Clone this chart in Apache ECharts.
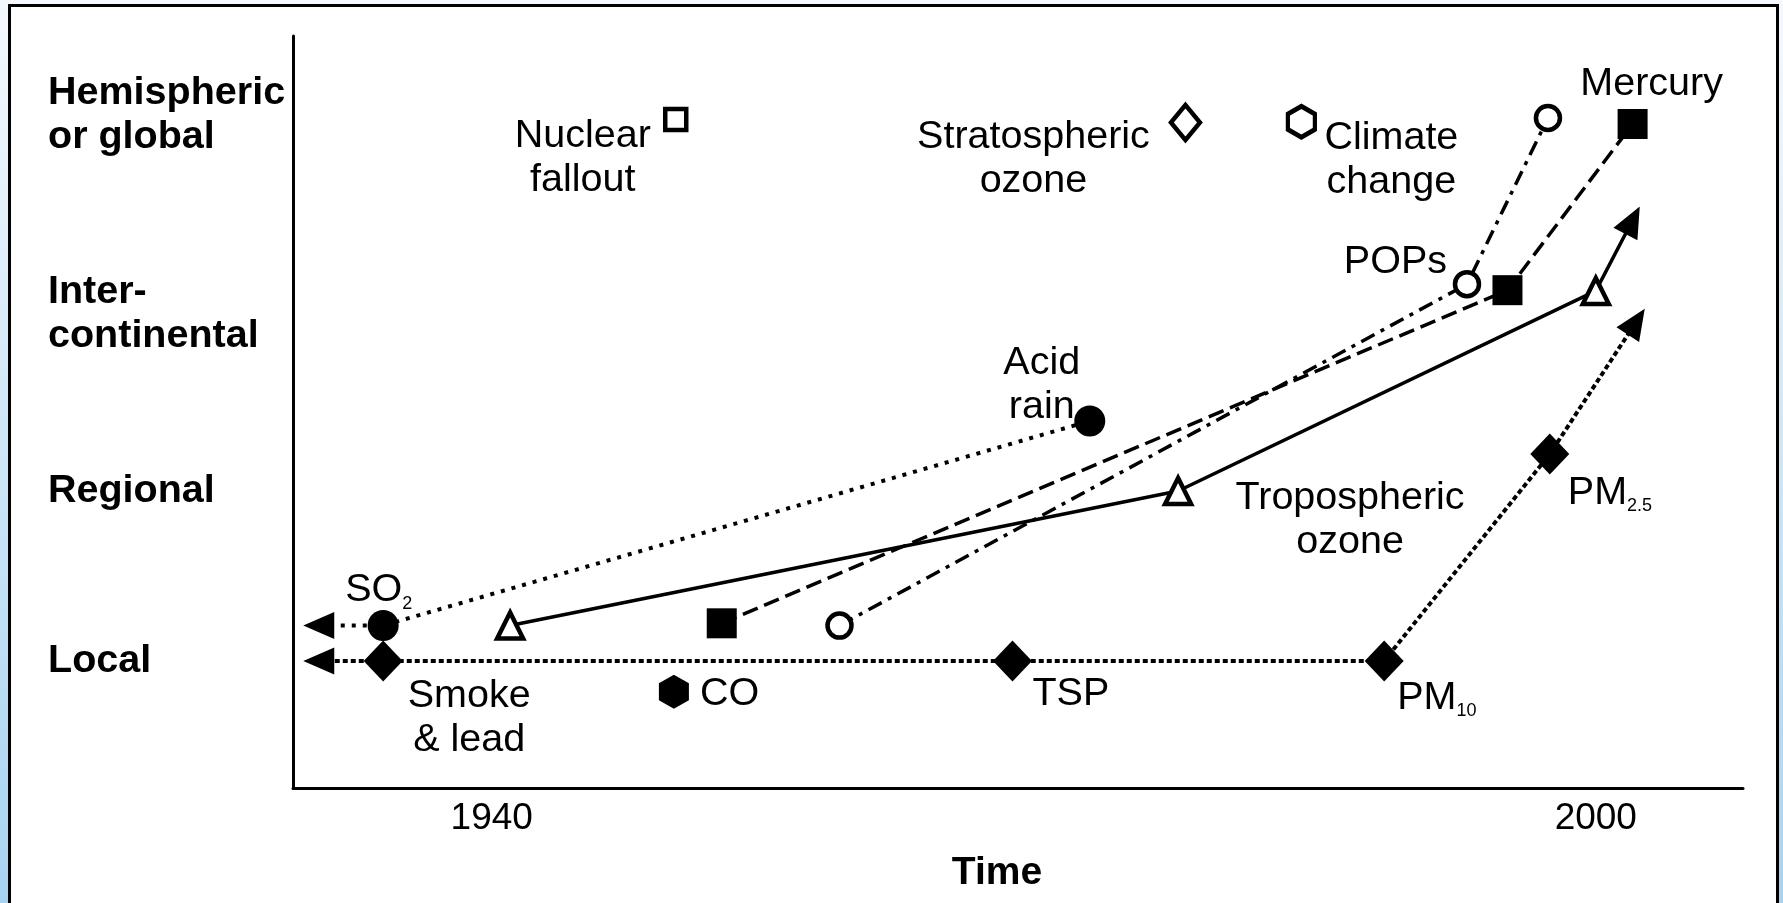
<!DOCTYPE html>
<html>
<head>
<meta charset="utf-8">
<title>Scale of air pollution problems over time</title>
<script src="https://cdn.jsdelivr.net/npm/echarts@6/dist/echarts.min.js"></script>
<style>
  html, body { margin: 0; padding: 0; }
  body {
    width: 1783px; height: 903px; overflow: hidden; position: relative;
    background: linear-gradient(to bottom, #f4f9fe 0%, #d2e8f8 45%, #a7d3f1 100%);
  }
  #frame {
    position: absolute; left: 8px; top: 4px; width: 1771px; height: 1000px;
    box-sizing: border-box; border: 3px solid #000; background: #fff;
  }
  #chart { position: absolute; left: 0; top: 0; width: 1783px; height: 903px; }
</style>
</head>
<body>
<div id="frame"></div>
<div id="chart"></div>
<script>
// spatial scale (y) and time ticks (x)
const levelValues = [16.9, 39.5, 63.0, 89.5];
const levelLabels = ['Local', 'Regional', 'Inter-\ncontinental', 'Hemispheric\nor global'];
const yearTicks = [1940, 2000];

// smoke & lead -> TSP -> PM10 -> PM2.5 (arrows at both ends)
const pmYears = [1930.6, 1934.1, 1968.3, 1988.5, 1997.5, 2002.2];
const pmLevels = [16.9, 16.9, 16.9, 16.9, 44.4, 62.0];
const pmNames = ['', 'Smoke\n& lead', 'TSP', 'PM10', 'PM2.5', ''];

// SO2 -> acid rain
const so2Years = [1930.6, 1934.1, 1972.5];
const so2Levels = [21.6, 21.6, 48.8];
const so2Names = ['', 'SO2', 'Acid\nrain'];

// tropospheric ozone
const ozoneYears = [1941.0, 1977.3, 2000.0, 2002.0];
const ozoneLevels = [21.6, 39.5, 66.1, 75.5];
const ozoneNames = ['', 'Tropospheric\nozone', '', ''];

// mercury
const mercuryYears = [1952.5, 1995.2, 2002.0];
const mercuryLevels = [21.9, 66.2, 88.3];
const mercuryNames = ['', '', 'Mercury'];

// persistent organic pollutants
const popsYears = [1958.9, 1993.0, 1997.4];
const popsLevels = [21.6, 67.0, 89.1];
const popsNames = ['', 'POPs', ''];

// single issues
const singleYears = [1950.0, 1977.7, 1984.0, 1949.9];
const singleLevels = [88.9, 88.5, 88.6, 12.8];
const singleNames = ['Nuclear\nfallout', 'Stratospheric\nozone', 'Climate\nchange', 'CO'];

const FONT = '"Liberation Sans", Arial, sans-serif';
const BLACK = '#000';
const TEXT_SIZE = 39.5;

// where each text sits relative to its marker
const labelPos = {
  'Smoke\n& lead': { offset: [86, 57] },
  'TSP': { offset: [20, 33], align: 'left' },
  'PM10': { offset: [13, 37], align: 'left' },
  'PM2.5': { offset: [18, 39], align: 'left' },
  'SO2': { offset: [-38, -35], align: 'left' },
  'Acid\nrain': { offset: [-48, -36] },
  'Tropospheric\nozone': { offset: [172, 29] },
  'POPs': { offset: [-20, -22], align: 'right' },
  'Mercury': { offset: [19, -40] },
  'Nuclear\nfallout': { offset: [-93, 39] },
  'Stratospheric\nozone': { offset: [-152, 37] },
  'Climate\nchange': { offset: [90, 38] },
  'CO': { offset: [26, 2], align: 'left' }
};
const subscripts = { 'PM10': ['PM', '10'], 'PM2.5': ['PM', '2.5'], 'SO2': ['SO', '2'] };

const hexagon = 'path://M0,-10L8.66,-5L8.66,5L0,10L-8.66,5L-8.66,-5Z';
const filled = { color: BLACK, borderWidth: 0, opacity: 1 };
const open = { color: '#fff', borderColor: BLACK, borderWidth: 4.5, opacity: 1 };
const ARROW = [27, 31];

function labelFor(name) {
  const p = labelPos[name];
  if (!name || !p) return { show: false };
  const sub = subscripts[name];
  return {
    show: true,
    position: 'inside',
    offset: p.offset,
    align: p.align || 'center',
    verticalAlign: 'middle',
    color: BLACK,
    opacity: 1,
    fontFamily: FONT,
    fontSize: TEXT_SIZE,
    lineHeight: 44,
    formatter: sub ? '{t|' + sub[0] + '}{s|' + sub[1] + '}' : name,
    rich: {
      t: { fontFamily: FONT, fontSize: TEXT_SIZE, lineHeight: 44, color: BLACK, verticalAlign: 'middle' },
      s: { fontFamily: FONT, fontSize: 18, lineHeight: 16, color: BLACK, verticalAlign: 'bottom' }
    }
  };
}

function buildData(years, levels, names, marker, arrows) {
  return years.map((yr, i) => {
    const isArrow = arrows.includes(i);
    return {
      value: [yr, levels[i]],
      name: names[i],
      symbol: isArrow ? 'triangle' : marker.symbol,
      symbolSize: isArrow ? ARROW : marker.size,
      itemStyle: isArrow ? filled : marker.itemStyle,
      label: labelFor(names[i])
    };
  });
}

const lines = [
  { name: 'Particles', years: pmYears, levels: pmLevels, names: pmNames, arrows: [0, 5],
    marker: { symbol: 'diamond', size: [39, 41], itemStyle: filled }, dash: [5, 3], width: 4 },
  { name: 'SO2', years: so2Years, levels: so2Levels, names: so2Names, arrows: [0],
    marker: { symbol: 'circle', size: 31, itemStyle: filled }, dash: [4, 7], width: 4 },
  { name: 'Tropospheric ozone', years: ozoneYears, levels: ozoneLevels, names: ozoneNames, arrows: [3],
    marker: { symbol: 'triangle', size: [26, 26], itemStyle: open }, dash: 'solid', width: 3.5 },
  { name: 'Mercury', years: mercuryYears, levels: mercuryLevels, names: mercuryNames, arrows: [],
    marker: { symbol: 'rect', size: 30, itemStyle: filled }, dash: [16, 7], width: 3.5 },
  { name: 'POPs', years: popsYears, levels: popsLevels, names: popsNames, arrows: [],
    marker: { symbol: 'circle', size: 24, itemStyle: open }, dash: [15, 7, 4, 7], width: 3.5 }
];

const singleMarkers = [
  { symbol: 'rect', size: 21, itemStyle: open },
  { symbol: 'diamond', size: [29, 35], itemStyle: open },
  { symbol: hexagon, size: [27, 31], itemStyle: open },
  { symbol: hexagon, size: [30, 34], itemStyle: filled }
];

const chart = echarts.init(document.getElementById('chart'));

function buildSeries() {
  const series = lines.map(l => ({
    type: 'line',
    name: l.name,
    data: buildData(l.years, l.levels, l.names, l.marker, l.arrows),
    lineStyle: { color: BLACK, width: l.width, type: l.dash, cap: 'butt' },
    z: 3
  }));
  series.push({
    type: 'scatter',
    name: 'Single issues',
    itemStyle: { opacity: 1 },
    data: singleYears.map((yr, i) => ({
      value: [yr, singleLevels[i]],
      name: singleNames[i],
      symbol: singleMarkers[i].symbol,
      symbolSize: singleMarkers[i].size,
      itemStyle: singleMarkers[i].itemStyle,
      label: labelFor(singleNames[i])
    })),
    z: 4
  });
  return series;
}

const option = {
  animation: false,
  backgroundColor: 'transparent',
  grid: { left: 293, top: 36, right: 40, bottom: 115 },
  xAxis: {
    type: 'value',
    min: 1929.2,
    max: 2008,
    name: 'Time',
    nameLocation: 'middle',
    nameGap: 66,
    nameTextStyle: { fontFamily: FONT, fontSize: 39, fontWeight: 'bold', color: BLACK, padding: [0, 42, 0, 0] },
    axisLine: { lineStyle: { color: BLACK, width: 3 } },
    axisTick: { show: false },
    splitLine: { show: false },
    axisLabel: {
      customValues: yearTicks,
      fontFamily: FONT, fontSize: 37, color: BLACK, margin: 12,
      formatter: v => String(v)
    }
  },
  yAxis: {
    type: 'value',
    min: 0,
    max: 100,
    axisLine: { show: true, lineStyle: { color: BLACK, width: 3 } },
    axisTick: { show: false },
    splitLine: { show: false },
    axisLabel: {
      customValues: levelValues,
      formatter: v => levelLabels[levelValues.indexOf(v)] || '',
      fontFamily: FONT, fontSize: 39.5, fontWeight: 'bold', color: BLACK,
      lineHeight: 44, align: 'left', margin: 245
    }
  },
  series: buildSeries()
};

chart.setOption(option);

// point every arrowhead along the segment that leads into it
function px(v) { return chart.convertToPixel({ gridIndex: 0 }, v); }
const rotated = option.series.map((s, si) => {
  if (si >= lines.length) return { data: s.data };
  const l = lines[si];
  const data = s.data.map((d, i) => {
    if (!l.arrows.includes(i)) return d;
    const j = i === 0 ? 1 : i - 1;
    const a = px(d.value), b = px(s.data[j].value);
    const ang = Math.atan2(a[0] - b[0], -(a[1] - b[1])) * 180 / Math.PI;
    return Object.assign({}, d, { symbolRotate: -ang });
  });
  return { data: data };
});
chart.setOption({ series: rotated });
</script>
</body>
</html>
